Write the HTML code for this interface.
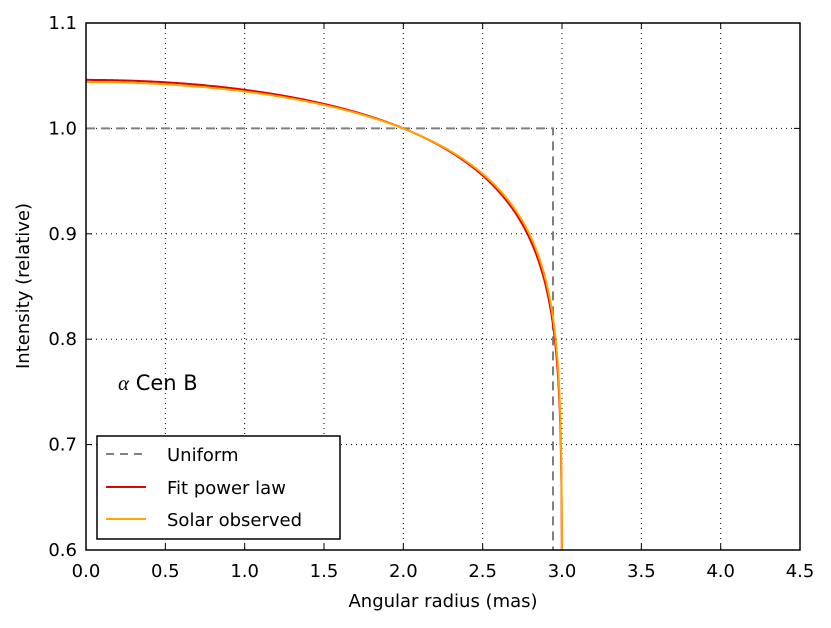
<!DOCTYPE html><html><head><style>body{margin:0;background:#fff}svg{font-family:"DejaVu Sans","Liberation Sans",sans-serif}</style></head><body>
<svg id="s" width="831" height="623" viewBox="0 0 831 623" xmlns="http://www.w3.org/2000/svg">
<rect width="831" height="623" fill="#fff"/>
<g id="grid" stroke="#000" stroke-width="1" stroke-dasharray="1,4"></g>
<g id="ticks" font-size="18" fill="#000"></g>
<polyline points="86,128.4 553,128.4 553,550" fill="none" stroke="#808080" stroke-width="2" stroke-dasharray="9,6"/>
<path id="red" fill="none" stroke="#e00000" stroke-width="2"/>
<path id="org" fill="none" stroke="#ffa500" stroke-width="2"/>
<rect x="86" y="23" width="714" height="527" fill="none" stroke="#000" stroke-width="1.5"/>
<text x="118" y="390" font-size="21"><tspan font-family="Liberation Serif,serif" font-style="italic">α</tspan> Cen B</text>
<rect x="97" y="436" width="243" height="103" fill="#fff" stroke="#000" stroke-width="1.5"/>
<line x1="106" y1="454" x2="146" y2="454" stroke="#808080" stroke-width="2" stroke-dasharray="8,6"/>
<line x1="106" y1="487" x2="146" y2="487" stroke="#e00000" stroke-width="2"/>
<line x1="106" y1="519" x2="146" y2="519" stroke="#ffa500" stroke-width="2"/>
<text x="167" y="461" font-size="18">Uniform</text>
<text x="167" y="494" font-size="18">Fit power law</text>
<text x="167" y="526" font-size="18">Solar observed</text>
<text x="443" y="607" font-size="18" text-anchor="middle">Angular radius (mas)</text>
<text transform="translate(29,286) rotate(-90)" font-size="18" text-anchor="middle">Intensity (relative)</text>
</svg>
<script>
var X=r=>86+r*158.67,Y=v=>550-(v-0.6)*1054;
var g=document.getElementById('grid'),t=document.getElementById('ticks'),h='',k='';
for(var i=0;i<=9;i++){var x=X(i*0.5);if(i>0&&i<9)h+='<line x1="'+x+'" y1="23" x2="'+x+'" y2="550"/>';k+='<text x="'+x+'" y="577" text-anchor="middle">'+(i*0.5).toFixed(1)+'</text>';
k+='<line x1="'+x+'" y1="550" x2="'+x+'" y2="544" stroke="#000"/><line x1="'+x+'" y1="23" x2="'+x+'" y2="29" stroke="#000"/>';}
for(var j=0;j<=5;j++){var y=Y(0.6+j*0.1);if(j>0&&j<5)h+='<line x1="86" y1="'+y+'" x2="800" y2="'+y+'"/>';k+='<text x="77" y="'+(y+6)+'" text-anchor="end">'+(0.6+j*0.1).toFixed(1)+'</text>';
k+='<line x1="86" y1="'+y+'" x2="92" y2="'+y+'" stroke="#000"/><line x1="800" y1="'+y+'" x2="794" y2="'+y+'" stroke="#000"/>';}
g.innerHTML=h;t.innerHTML=k;
function P(c,a){var d='';for(var n=0;n<=600;n++){var r=3*(1-Math.pow(1-n/600,2));var mu=Math.sqrt(Math.max(0,1-(r/3)*(r/3)));var v=c*Math.pow(mu,a);if(v<0.6)v=0.6;d+=(n?'L':'M')+X(r).toFixed(2)+','+Y(v).toFixed(2);}return d;}
document.getElementById('red').setAttribute('d',P(1.046,0.153));
document.getElementById('org').setAttribute('d',P(1.044,0.147));
</script>
</body></html>
